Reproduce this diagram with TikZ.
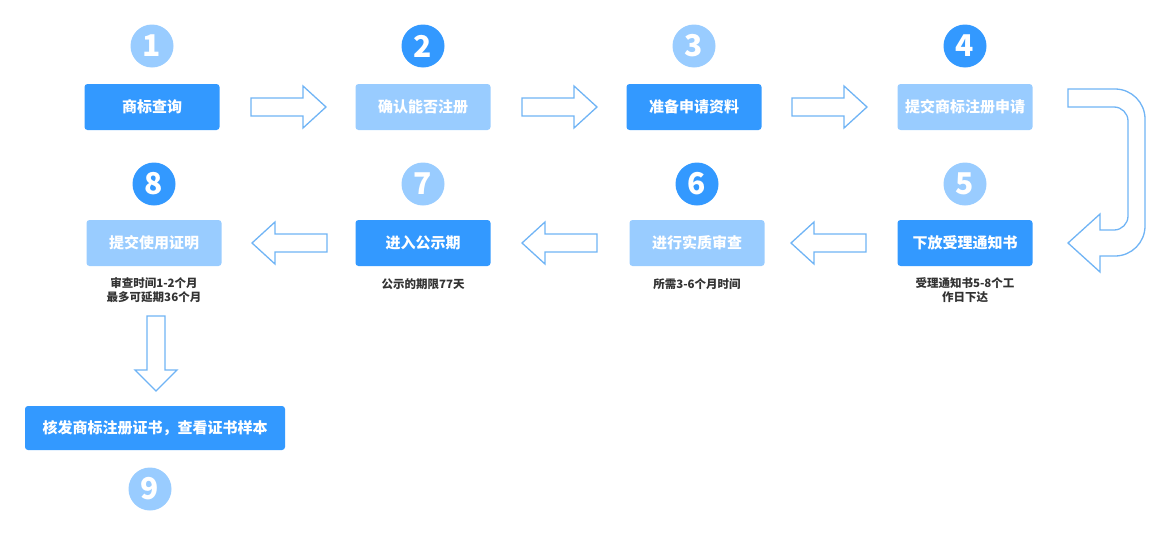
\documentclass[tikz,border=0pt]{standalone}
\usepackage{fontspec}
\setmainfont{Noto Sans CJK SC}
\newfontfamily\medfont{Noto Sans CJK SC Medium}
\definecolor{dk}{HTML}{3399FF}
\definecolor{lt}{HTML}{99CCFF}
\definecolor{ar}{HTML}{70B4F5}
\begin{document}
\begin{tikzpicture}[x=1pt,y=-1pt,
 box/.style={rounded corners=3pt,minimum width=135pt,minimum height=46pt,text=white,font=\fontsize{15}{17}\selectfont\bfseries,inner sep=0pt},
 num/.style={circle,minimum size=43pt,inner sep=0pt,text=white,font=\fontsize{30}{30}\selectfont\bfseries},
 note/.style={font=\fontsize{11.5}{14}\selectfont\bfseries,text=black!80,align=center},
 arr/.style={draw=ar,line width=1.3pt,fill=white}]
\useasboundingbox (0,0) rectangle (1156,533);
\node[num,fill=lt] (c1) at (152,46) {1};
\node[num,fill=dk] (c2) at (423,46) {2};
\node[num,fill=lt] (c3) at (694,46) {3};
\node[num,fill=dk] (c4) at (965,46) {4};
\node[num,fill=lt] (c5) at (965,184) {5};
\node[num,fill=dk] (c6) at (697,184) {6};
\node[num,fill=lt] (c7) at (423,184) {7};
\node[num,fill=dk] (c8) at (154,184) {8};
\node[num,fill=lt] (c9) at (150,489) {9};
\node[box,fill=dk] (b1) at (152,107) {商标查询};
\node[box,fill=lt] (b2) at (423,107) {确认能否注册};
\node[box,fill=dk] (b3) at (694,107) {准备申请资料};
\node[box,fill=lt] (b4) at (965,107) {提交商标注册申请};
\node[box,fill=dk] (b5) at (965,243) {下放受理通知书};
\node[box,fill=lt] (b6) at (697,243) {进行实质审查};
\node[box,fill=dk] (b7) at (423,243) {进入公示期};
\node[box,fill=lt] (b8) at (154,243) {提交使用证明};
\node[box,fill=dk,minimum width=260pt,minimum height=44pt] (b9) at (155,428) {核发商标注册证书，查看证书样本};
\node[note] (n5) at (965,290) {受理通知书5-8个工\\作日下达};
\node[note] (n6) at (697,284) {所需3-6个月时间};
\node[note] (n7) at (423,284) {公示的期限77天};
\node[note] (n8) at (154,290) {审查时间1-2个月\\最多可延期36个月};
% right arrows
\foreach \x in {251,522,792}{
 \draw[arr] (\x,98) -- (\x+52,98) -- (\x+52,86) -- (\x+75,107) -- (\x+52,128) -- (\x+52,116) -- (\x,116) -- cycle;}
% left arrows
\foreach \x in {327,597,866}{
 \draw[arr] (\x,234) -- (\x-52,234) -- (\x-52,222) -- (\x-75,243) -- (\x-52,264) -- (\x-52,252) -- (\x,252) -- cycle;}
% down arrow
\draw[arr] (147,316) -- (165,316) -- (165,370) -- (177,370) -- (156,391) -- (135,370) -- (147,370) -- cycle;
% U arrow
\draw[arr] (1068,89) [rounded corners=30pt] -- (1145,89) -- (1145,256) [sharp corners] -- (1100,256) -- (1100,272) -- (1068,243) -- (1100,214) -- (1100,230) [rounded corners=14pt] -- (1128,230) -- (1128,107) [sharp corners] -- (1068,107) -- cycle;
\end{tikzpicture}
\end{document}
